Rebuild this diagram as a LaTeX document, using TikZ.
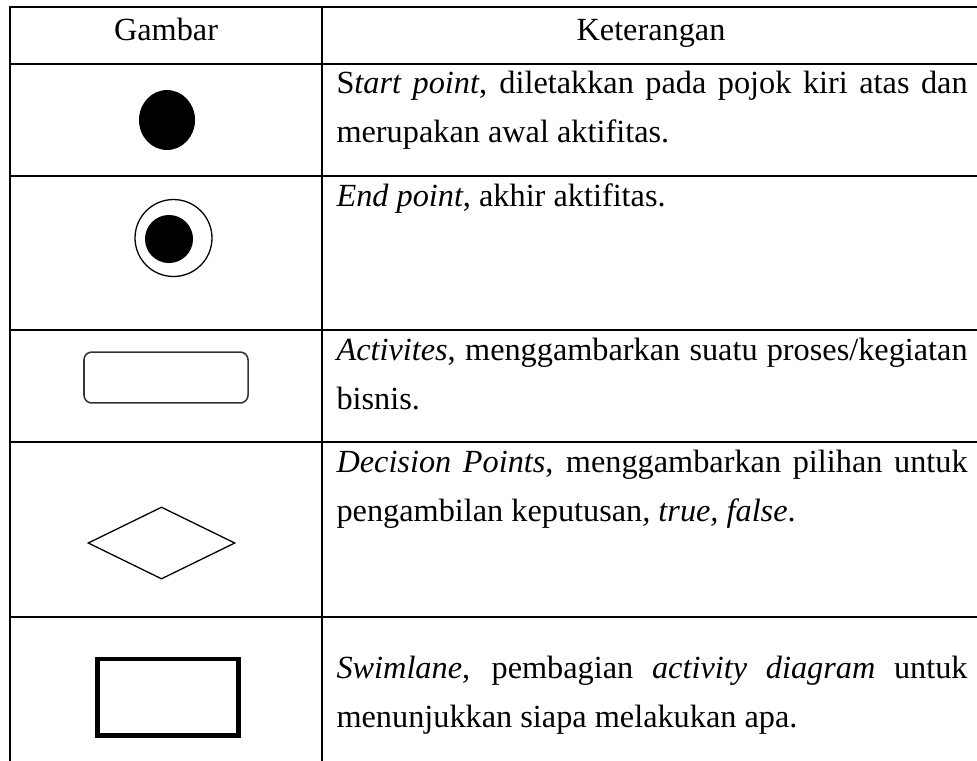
\documentclass[tikz,border=0pt]{standalone}
\usepackage{fontspec}
\setmainfont{Liberation Serif}
\usetikzlibrary{shapes}
\hyphenpenalty=10000
\tolerance=9999
\tikzset{grid/.style={line width=1.1pt, line cap=rect}}
\tikzset{head/.style={anchor=base, inner sep=0pt, font=\fontsize{12.5}{19.2}\selectfont}}
\tikzset{ket/.style={anchor=base west, inner sep=0pt, text width=244.3pt, align=justify, font=\fontsize{12.5}{19.2}\selectfont}}
\tikzset{startpt/.style={ellipse, fill=black, inner sep=0pt, minimum width=21.7pt, minimum height=23.2pt}}
\tikzset{endring/.style={circle, draw, line width=0.5pt, inner sep=0pt, minimum size=29.8pt}}
\tikzset{enddot/.style={circle, fill=black, inner sep=0pt, minimum size=18.6pt}}
\tikzset{activity/.style={rectangle, rounded corners=3pt, draw=black!80, line width=0.6pt, inner sep=0pt, minimum width=63.5pt, minimum height=19.7pt}}
\tikzset{decision/.style={diamond, draw, line width=0.5pt, inner sep=0pt, minimum width=56.9pt, minimum height=27.9pt}}
\tikzset{swimlane/.style={rectangle, draw, line width=1.9pt, inner sep=0pt, minimum width=54.5pt, minimum height=29.6pt}}

\begin{document}
\begin{tikzpicture}[x=0.3871pt, y=-0.3871pt]

    \clip (0,0) rectangle (977,760);

    % table
    \foreach \ypos in {7,64,176,330,442,617}
        \draw [grid] (10,\ypos) -- (990,\ypos);
    \foreach \xpos in {10,322,980}
        \draw [grid] (\xpos,7) -- (\xpos,780);

    \node [head] (gambar) at (166,40) {Gambar};
    \node [head] (keterangan) at (651,40) {Keterangan};

    % symbols
    \node [startpt] (start) at (167,120) {};
    \node [endring] (endRing) at (173.5,238) {};
    \node [enddot] (endDot) at (169,239) {};
    \node [activity] (act) at (166,377.5) {};
    \node [decision] (dec) at (161.5,543) {};
    \node [swimlane] (lane) at (168.3,697.2) {};

    % descriptions
    \node [ket] (ketStart) at (336,93) {S\textit{tart point}, diletakkan pada pojok kiri atas dan\linebreak merupakan awal aktifitas.};
    \node [ket] (ketEnd) at (336,206) {\textit{End point}, akhir aktifitas.};
    \node [ket] (ketAct) at (336,360) {\textit{Activites}, menggambarkan suatu proses/kegiatan\linebreak bisnis.};
    \node [ket] (ketDec) at (336,472) {\textit{Decision Points}, menggambarkan pilihan untuk\linebreak pengambilan keputusan\textit{, true, false}.};
    \node [ket] (ketLane) at (336,678) {\textit{Swimlane}, pembagian \textit{activity diagram} untuk\linebreak menunjukkan siapa melakukan apa.};

\end{tikzpicture}
\end{document}
